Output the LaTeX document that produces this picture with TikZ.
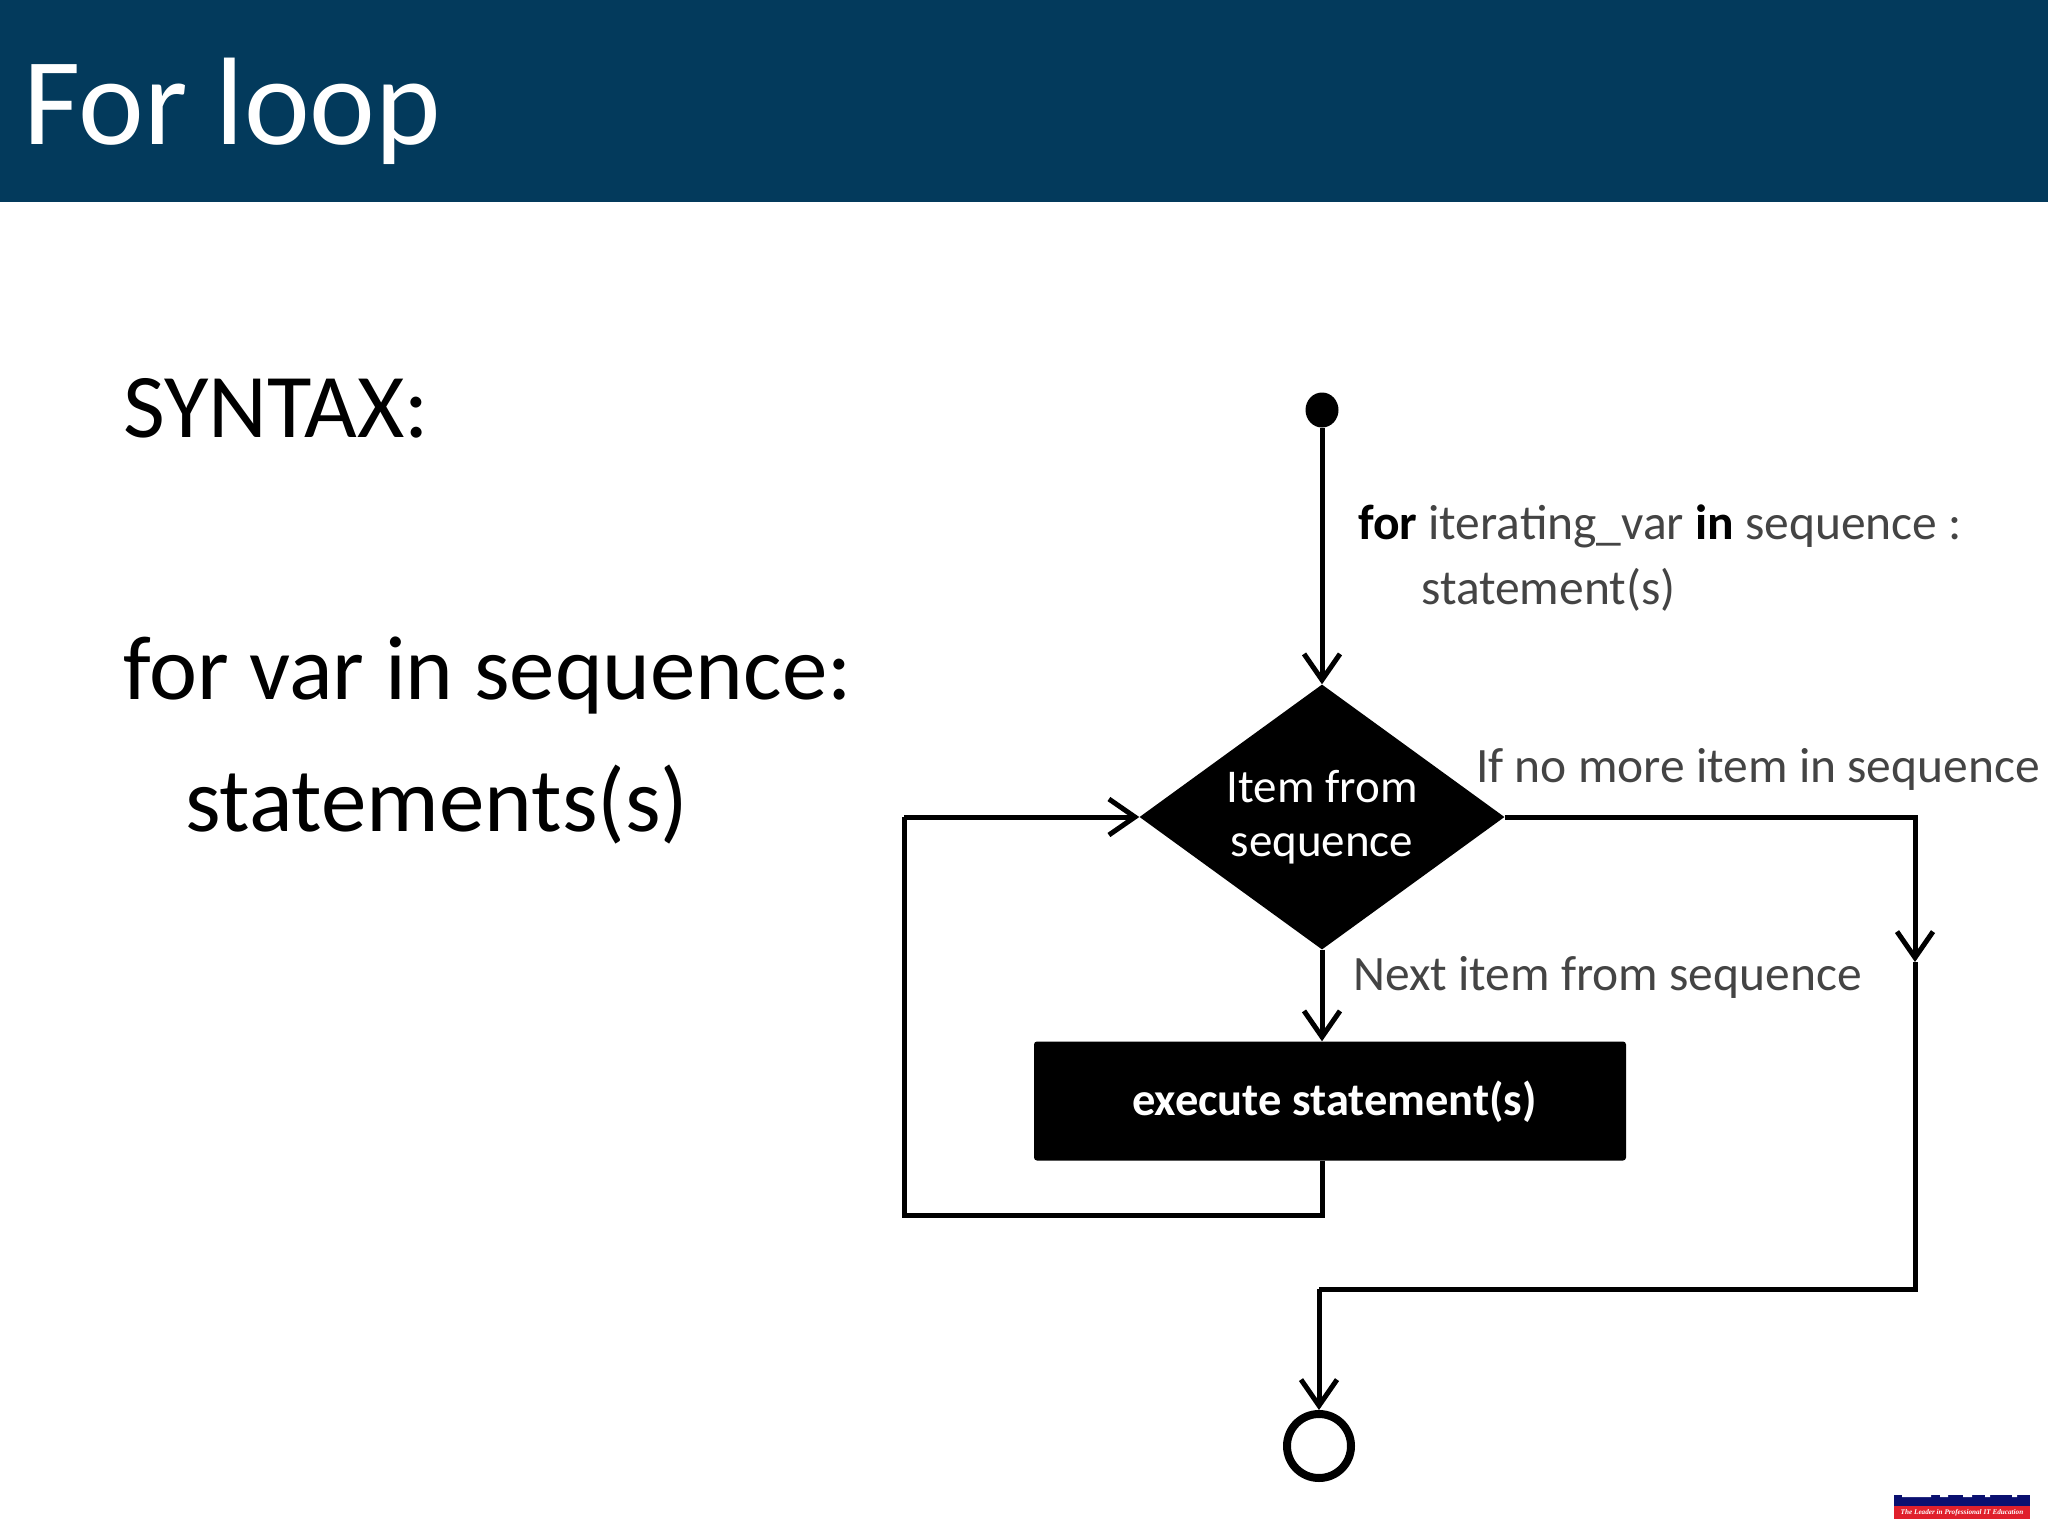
\documentclass[tikz,border=0pt]{standalone}
\usepackage{fontspec}
\setmainfont{Carlito}
\newfontfamily\logofont{Liberation Serif}
\usetikzlibrary{arrows.meta,shapes.geometric}

\definecolor{headblue}{HTML}{033A5C}
\definecolor{labelgray}{HTML}{444444}
\definecolor{logoblue}{HTML}{0A1070}
\definecolor{logored}{HTML}{E0202C}

\tikzset{
  slidetext/.style = {anchor=base west, inner sep=0pt, font=\fontsize{91}{91}\selectfont},
  flowlabel/.style = {anchor=base west, inner sep=0pt, text=labelgray, font=\fontsize{49.5}{49.5}\selectfont},
  flowline/.style = {line width=5pt},
  flowarrow/.style = {flowline, -{Straight Barb[length=26pt,width=36pt,line width=5pt]}}
}

\begin{document}
\begin{tikzpicture}[x=1pt,y=-1pt]

\useasboundingbox (0,0) rectangle (2048,1536);

\fill[headblue] (0,0) rectangle (2048,202);
\node[anchor=base west, inner sep=0pt, text=white, font=\fontsize{124.5}{124.5}\selectfont] (title) at (23,145) {For loop};

\node[slidetext] (syntax) at (123,437) {SYNTAX:};
\node[slidetext] (forvar) at (123,699) {for var in sequence:};
\node[slidetext] (stmts) at (185,831) {statements(s)};

\node[ellipse, fill=black, minimum width=33pt, minimum height=35pt, inner sep=0pt] (start) at (1322,410) {};
\node[diamond, fill=black, text=white, minimum width=365pt, minimum height=265pt, aspect=1.38, inner sep=0pt, align=center, font=\fontsize{47}{54}\selectfont] (item) at (1322,817) {Item from\\sequence};
\node[rectangle, rounded corners=3pt, fill=black, text=white, minimum width=592pt, minimum height=119pt, inner sep=0pt, text height=34pt, text depth=6pt, font=\bfseries\fontsize{46.5}{46.5}\selectfont] (exec) at (1330,1101) {\hspace*{9pt}execute statement(s)};
\node[circle, draw=black, line width=8pt, minimum size=64pt, inner sep=0pt] (stop) at (1319,1446) {};

\node[flowlabel] (forlabel) at (1358,539) {\textcolor{black}{\textbf{for}} iterating\_var \textcolor{black}{\textbf{in}} sequence :};
\node[flowlabel] (stlabel) at (1421,604) {statement(s)};
\node[flowlabel] (nomore) at (1476,782) {If no more item in sequence};
\node[flowlabel] (nextitem) at (1353,990) {Next item from sequence};

\coordinate (loopa) at (1322,1215);
\coordinate (loopb) at (904,817);
\coordinate (downa) at (1915,962);
\coordinate (joina) at (1319,1289);

\draw[flowarrow] (start) -- (item.north);
\draw[flowarrow] (item.south) -- (item.south |- exec.north);
\draw[flowline] (item.south |- exec.south) -- (loopa) -| (loopb);
\draw[flowarrow] (loopb) -- (item.west);
\draw[flowarrow] (item.east) -| (downa);
\draw[flowline] (downa) |- (joina);
\draw[flowarrow] (joina) -- (stop.north);

\fill[logoblue] (1894,1495) rectangle (2030,1506);
\fill[white] (1902,1495) rectangle (1931,1497) (1940,1495) rectangle (1948,1497) (1963,1495) rectangle (1972,1497) (1985,1495) rectangle (1990,1497) (2012,1495) rectangle (2017,1497);
\node[fill=logored, text=white, minimum width=136pt, minimum height=13pt, inner sep=0pt, font=\logofont\itshape\bfseries\fontsize{7.2}{7.2}\selectfont] (logo) at (1962,1512.5) {The Leader in Professional IT Education};

\end{tikzpicture}
\end{document}
